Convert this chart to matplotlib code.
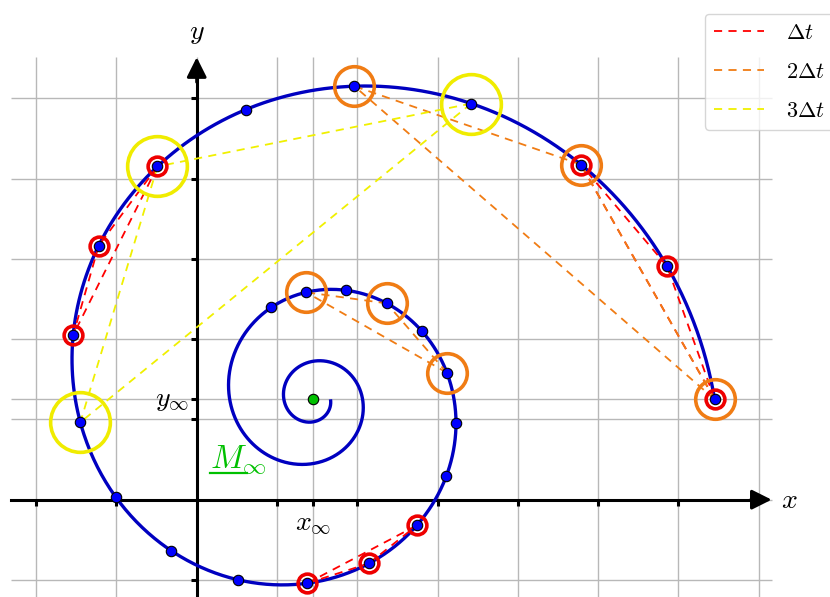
import numpy as np
import matplotlib
matplotlib.use("Agg")
import matplotlib.pyplot as plt
from matplotlib.lines import Line2D

plt.rcParams["mathtext.fontset"] = "cm"

# limit point M_inf and spiral parameters
x_inf, y_inf = 1.45, 1.25
r0 = 5.0          # starting distance from M_inf
decay = 1 / 6     # radial decay per radian
turns = 3
dt = 0.36         # sampling step
n_samples = 24

# triples of sample indices joined by dashed lines
red_triples = [(0, 1, 2), (6, 7, 8), (13, 14, 15)]
orange_triples = [(0, 2, 4), (18, 20, 22)]
yellow_triples = [(3, 6, 9)]

x_ticks = [-2, -1, 1, 2, 3, 4, 5, 6]
y_ticks = [-1, 1, 2, 3, 4, 5]
grid_x = [-2, -1, 0, 1, 2, 3, 4, 5, 6, 7]
grid_y = [-1, 0, 1, 2, 3, 4, 5]


def spiral(t):
    r = r0 * np.exp(-decay * t)
    return x_inf + r * np.cos(t), y_inf + r * np.sin(t)


t_curve = np.linspace(0, 2 * np.pi * turns, 1500)
xc, yc = spiral(t_curve)
xs, ys = spiral(np.arange(n_samples) * dt)

fig = plt.figure(figsize=(8.3, 5.97), dpi=100)
ax = fig.add_axes([0, 0, 1, 1])
ax.set_xlim(-2.45, 7.887)
ax.set_ylim(-1.212, 6.223)
ax.set_aspect("equal")

# grid box
gx0, gx1, gy0, gy1 = -2.31, 7.16, -1.212, 5.51
ax.vlines(grid_x + [x_inf], gy0, gy1, color="#b8b8b8", lw=1.0, zorder=0)
ax.hlines(grid_y + [y_inf], gx0, gx1, color="#b8b8b8", lw=1.0, zorder=0)

# axes through the origin
for s in ["top", "right"]:
    ax.spines[s].set_visible(False)
ax.spines["bottom"].set_position(("data", 0))
ax.spines["left"].set_position(("data", 0))
ax.spines["bottom"].set_bounds(gx0, 7.0)
ax.spines["left"].set_bounds(gy0, 5.3)
for s in ["bottom", "left"]:
    ax.spines[s].set_linewidth(2.2)
ax.set_xticks(x_ticks + [x_inf], [""] * len(x_ticks) + [r"$x_\infty$"])
ax.set_yticks(y_ticks + [y_inf], [""] * len(y_ticks) + [r"$y_\infty$"])
ax.tick_params(direction="out", length=4.5, width=2.2, labelsize=20, pad=2)
ax.tick_params(axis="y", pad=1)
for lbl in ax.get_yticklabels():
    lbl.set_va("center")

arrow = dict(arrowstyle="-|>", lw=2.2, color="black", mutation_scale=30,
             shrinkA=0, shrinkB=0)
ax.annotate("", xy=(gx1, 0), xytext=(6.9, 0), arrowprops=arrow)
ax.annotate("", xy=(0, gy1), xytext=(0, 5.2), arrowprops=arrow)
ax.text(gx1 + 0.12, 0, "$x$", fontsize=20, va="center", ha="left")
ax.text(0, gy1 + 0.14, "$y$", fontsize=20, va="bottom", ha="center")

# spiral and samples
ax.plot(xc, yc, color="#0000c0", lw=2.4, zorder=3, solid_capstyle="butt")


def draw_triples(triples, color):
    for tri in triples:
        for a, b in [(tri[0], tri[1]), (tri[1], tri[2]), (tri[0], tri[2])]:
            ax.plot([xs[a], xs[b]], [ys[a], ys[b]], color=color, lw=1.3,
                    dashes=(4.5, 3.5), zorder=4)


def draw_rings(triples, color, size, width):
    idx = sorted({i for tri in triples for i in tri})
    ax.plot(xs[idx], ys[idx], "o", ms=size, mfc="none", mec=color,
            mew=width, zorder=5)


draw_triples(red_triples, "#ff0000")
draw_triples(orange_triples, "#f07c14")
draw_triples(yellow_triples, "#f0f000")
draw_rings(yellow_triples, "#f0ec00", 43, 2.6)
draw_rings(orange_triples, "#f07c14", 28.5, 2.6)
draw_rings(red_triples, "#ee0000", 13.5, 2.6)

ax.plot(xs, ys, "o", ms=7.5, mfc="#0000ff", mec="black", mew=0.8, zorder=6)
ax.plot(x_inf, y_inf, "o", ms=7.5, mfc="#00c000", mec="black", mew=0.8,
        zorder=6)

# M_inf label, M underlined
ax.text(0.166, 0.395, r"$M_\infty$", color="#00c000", fontsize=24,
        ha="left", va="baseline")
ax.plot([0.166, 0.63], [0.333, 0.333], color="#00c000", lw=1.6)

handles = [Line2D([], [], color=c, lw=1.3, dashes=(4.5, 3.5))
           for c in ["#ff0000", "#f07c14", "#f0f000"]]
fig.legend(handles, [r"$\Delta t$", r"$2\Delta t$", r"$3\Delta t$"],
           loc="upper left", bbox_to_anchor=(705 / 830, 1 - 14 / 597),
           borderaxespad=0, fontsize=16, handlelength=2.25,
           handletextpad=1.0, labelspacing=0.85, borderpad=0.4)

fig.savefig("out.png", dpi=100)
